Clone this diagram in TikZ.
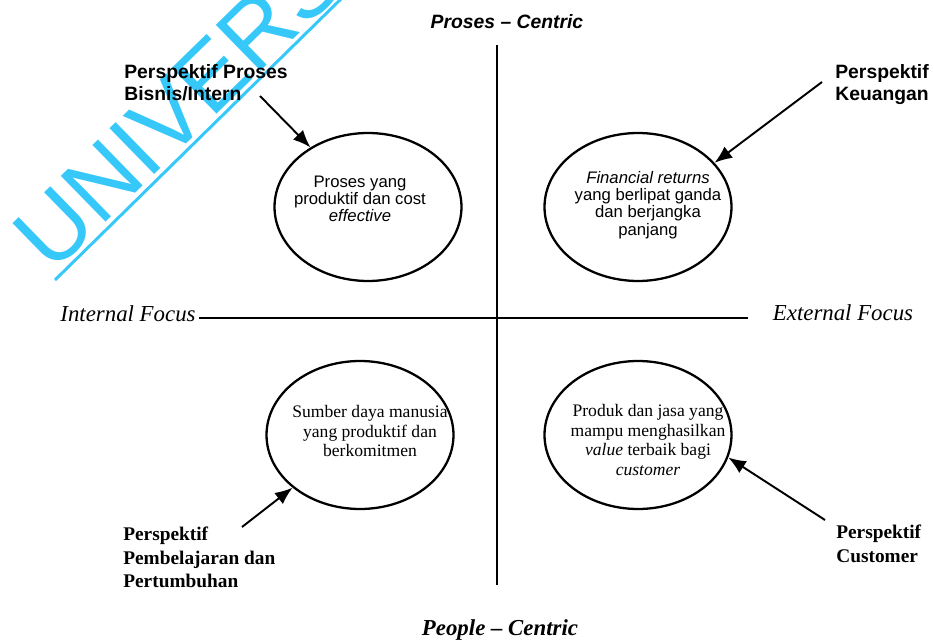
\documentclass[tikz,border=0pt]{standalone}
\usepackage{fontspec}
\setmainfont{Liberation Serif}
\setsansfont{Liberation Sans}
\usetikzlibrary{positioning,shapes.geometric,arrows.meta}
\definecolor{wmcyan}{RGB}{55,200,250}
\tikzset{
  quadrant/.style={draw, ellipse, line width=1.3pt, inner sep=0pt,
    minimum width=3.74cm, minimum height=2.96cm},
  quadsans/.style={align=center, inner sep=0pt, font=\sffamily\fontsize{9.5}{9.8}\selectfont},
  quadserif/.style={align=center, inner sep=0pt, font=\rmfamily\fontsize{10}{11}\selectfont},
  perspsans/.style={align=left, anchor=north west, inner sep=0pt,
    font=\sffamily\bfseries\fontsize{11}{12.5}\selectfont},
  perspserif/.style={align=left, anchor=north west, inner sep=0pt,
    font=\rmfamily\bfseries\fontsize{11}{13.3}\selectfont},
  pointer/.style={-{Latex[length=10pt,width=8pt]}, line width=1.1pt},
  axisline/.style={line width=1.1pt},
  focus/.style={inner sep=0pt, font=\rmfamily\itshape\fontsize{13}{13}\selectfont},
}
\begin{document}
\begin{tikzpicture}[x=0.02cm, y=-0.02cm]
  \useasboundingbox (0,0) rectangle (934,642);
  \clip (0,0) rectangle (934,642);

  % watermark
  \node[anchor=base west, inner sep=0pt, rotate=44.3, text=wmcyan,
    font=\sffamily\fontsize{53}{53}\selectfont] (watermark) at (52,275) {UNIVERSITAS};
  \draw[wmcyan, line width=1.7pt] (55,280) -- (345,-5);

  % axes
  \node[font=\sffamily\bfseries\itshape\fontsize{11}{11}\selectfont] (proses) at (507,22) {Proses -- Centric};
  \node[font=\rmfamily\bfseries\itshape\fontsize{13}{13}\selectfont] (people) at (500,630) {People -- Centric};
  \node[focus] (internal) at (128,314) {Internal Focus};
  \node[focus] (external) at (843,313) {External Focus};
  \coordinate (axtop) at (497,45);
  \coordinate (axbottom) at (497,585);
  \coordinate (axright) at (748,318);
  \draw[axisline] (axtop) -- (axbottom);
  \draw[axisline] ([xshift=2pt]internal.east |- axright) -- (axright);

  % quadrants
  \node[quadrant] (ellproses) at (368,207) {};
  \node[quadrant] (ellkeuangan) at (638,207) {};
  \node[quadrant] (ellpembelajaran) at (360,435) {};
  \node[quadrant] (ellcustomer) at (638,435) {};

  \node[quadsans] (txtproses) at (360,199) {Proses yang\\produktif dan cost\\\textit{effective}};
  \node[quadsans] (txtkeuangan) at (648,205) {\textit{Financial returns}\\yang berlipat ganda\\dan berjangka\\panjang};
  \node[quadserif] (txtpembelajaran) at (370,431) {Sumber daya manusia\\yang produktif dan\\berkomitmen};
  \node[quadserif, font=\rmfamily\fontsize{10}{11.3}\selectfont] (txtcustomer) at (648,440)
    {Produk dan jasa yang\\mampu menghasilkan\\\textit{value} terbaik bagi\\\textit{customer}};

  % perspectives
  \node[perspsans] (lblbisnis) at (124,64) {Perspektif Proses\\Bisnis/Intern};
  \node[perspsans] (lblkeuangan) at (835,64) {Perspektif\\Keuangan};
  \node[perspserif] (lblbelajar) at (123,527) {Perspektif\\Pembelajaran dan\\Pertumbuhan};
  \node[perspserif] (lblcustomer) at (836,525) {Perspektif\\Customer};

  \coordinate (tailbisnis) at (260,96);
  \coordinate (tailkeuangan) at (822,82);
  \coordinate (tailbelajar) at (242,527);
  \coordinate (tailcustomer) at (825,520);
  \draw[pointer] (tailbisnis) -- (ellproses.134);
  \draw[pointer] (tailkeuangan) -- (ellkeuangan.30);
  \draw[pointer] (tailbelajar) -- (ellpembelajaran.218);
  \draw[pointer] (tailcustomer) -- (ellcustomer.346);
\end{tikzpicture}
\end{document}
